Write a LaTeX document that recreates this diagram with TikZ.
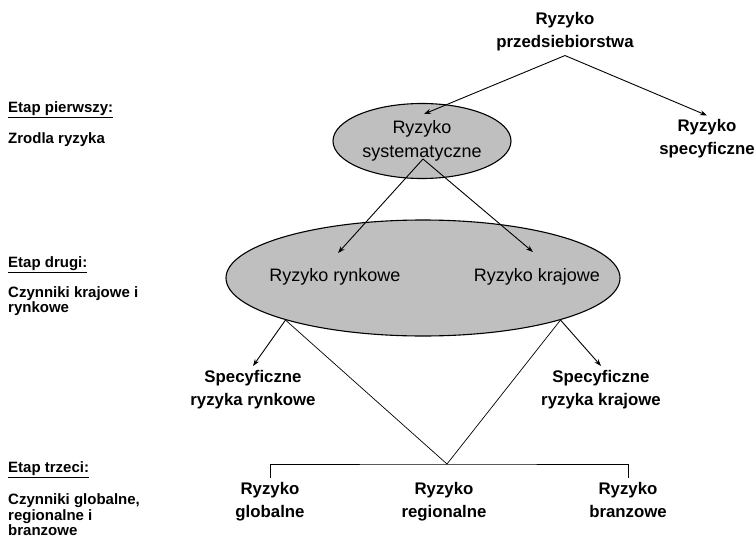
\documentclass[tikz,border=0pt]{standalone}
\usepackage{fontspec}
\setmainfont{Liberation Sans}
\usetikzlibrary{shapes.geometric,arrows.meta}

\tikzset{
    lbl/.style={font=\fontsize{16.8}{23}\selectfont\bfseries, align=center, inner sep=4pt},
    side/.style={font=\fontsize{15}{15.5}\selectfont\bfseries, align=left, anchor=west, inner sep=0pt},
    oval/.style={ellipse, draw, line width=1.1pt, fill=black!25, inner sep=0pt},
    intxt/.style={font=\fontsize{18}{24}\selectfont, align=center},
    arr/.style={-{Stealth[length=7pt,width=5pt]}, line width=0.9pt}
}

\begin{document}
\begin{tikzpicture}[x=1pt, y=1pt]
    \useasboundingbox (0,0) rectangle (755,-546);

    % owale
    \node[oval, intxt, minimum width=178pt, minimum height=75pt] (sys) at (422,-141) {Ryzyko\\systematyczne};
    \node[oval, minimum width=394pt, minimum height=116pt] (ctry) at (423,-278) {};
    \node[intxt] (rynek) at (335,-277) {Ryzyko rynkowe};
    \node[intxt] (kraj) at (537,-277) {Ryzyko krajowe};

    \node[lbl] (top) at (565,-32) {Ryzyko\\przedsiebiorstwa};
    \node[lbl] (spec) at (707,-139) {Ryzyko\\specyficzne};
    \node[lbl] (specryn) at (253,-389.5) {Specyficzne\\ryzyka rynkowe};
    \node[lbl] (speckraj) at (601,-389.5) {Specyficzne\\ryzyka krajowe};
    \node[lbl, anchor=north] (glob) at (270,-478) {Ryzyko\\globalne};
    \node[lbl, anchor=north] (reg) at (444,-478) {Ryzyko\\regionalne};
    \node[lbl, anchor=north] (bran) at (628,-478) {Ryzyko\\branzowe};

    % etapy
    \node[side] (etap1) at (8,-110) {\underline{Etap pierwszy:}};
    \node[side] (zrodla) at (8,-140) {Zrodla ryzyka};
    \node[side] (etap2) at (8,-265) {\underline{Etap drugi:}};
    \node[side] (czyn2) at (8,-301) {Czynniki krajowe i\\rynkowe};
    \node[side] (etap3) at (8,-470) {\underline{Etap trzeci:}};
    \node[side] (czyn3) at (8,-515) {Czynniki globalne,\\regionalne i\\branzowe};

    \coordinate (sysin) at (424,-114);
    \coordinate (sysout) at (423,-159);
    \coordinate (rynin) at (338,-253);
    \coordinate (krajin) at (533,-252);
    \coordinate (bfork) at (447,-464);

    \draw[arr] (top.south) -- (sysin);
    \draw[arr] (top.south) -- (spec.north);
    \draw[arr] (sysout) -- (rynin);
    \draw[arr] (sysout) -- (krajin);
    \draw[arr] (ctry.197) -- (specryn.north);
    \draw[arr] (ctry.343) -- (speckraj.north);
    \draw[line width=0.7pt] (ctry.197) -- (bfork) -- (ctry.343);
    \draw[line width=0.8pt] (glob.north) |- (bfork) -| (bran.north);
\end{tikzpicture}
\end{document}
